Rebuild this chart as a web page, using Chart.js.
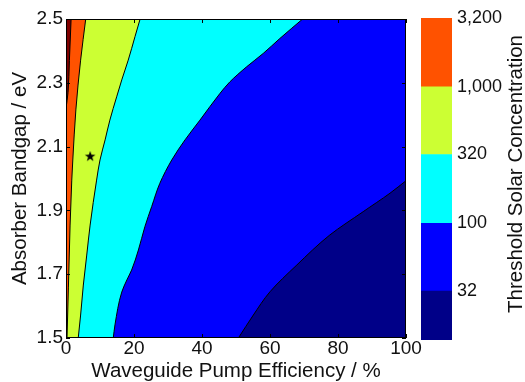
<!DOCTYPE html>
<html>
<head>
<meta charset="utf-8">
<script src="https://cdn.jsdelivr.net/npm/chart.js@4.4.1/dist/chart.umd.min.js"></script>
<style>
  html, body { margin: 0; padding: 0; background: #fff; }
  #wrap { position: relative; width: 525px; height: 382px; }
  #wrap canvas { position: absolute; left: 0; top: 0; }
</style>
</head>
<body>
<div id="wrap">
  <canvas id="map" width="525" height="382"></canvas>
  <canvas id="bar" width="525" height="382"></canvas>
</div>
<script>
// axis ticks
const effTicks = [0, 20, 40, 60, 80, 100];
const gapTicks = [1.5, 1.7, 1.9, 2.1, 2.3, 2.5];
const effRange = [0, 100];
const gapRange = [1.5, 2.5];

// colour bar levels
const levels = [14, 32, 100, 320, 1000, 3200];
const levelTicks = [32, 100, 320, 1000, 3200];
const bandColors = ['#000088', '#0000ff', '#00ffff', '#ccff33', '#ff5200'];
const topColor = '#800000';

// contour edges (gap in eV, efficiency in %)
const edge3200Gap = [2.22, 2.27, 2.37, 2.5];
const edge3200Eff = [0, 0.6, 1.0, 1.5];

const edge1000Gap = [1.5, 1.657, 1.854, 1.995, 2.058, 2.215, 2.371, 2.5];
const edge1000Eff = [0.3, 0.7, 1.2, 1.7, 2.0, 2.9, 4.3, 5.8];

const edge320Gap = [1.5, 1.572, 1.666, 1.76, 1.854, 1.995, 2.058, 2.121, 2.183, 2.256, 2.309, 2.371, 2.445, 2.5];
const edge320Eff = [3.6, 4.3, 5.1, 6.1, 7.1, 9.0, 10.0, 11.5, 12.9, 14.9, 16.4, 18.3, 20.3, 21.8];

const edge100Gap = [1.5, 1.541, 1.644, 1.682, 1.713, 1.776, 1.849, 1.912, 1.985, 2.058, 2.121, 2.183, 2.267, 2.303, 2.35, 2.392, 2.439, 2.5];
const edge100Eff = [13.9, 14.4, 16.4, 17.9, 19.3, 21.3, 23.2, 25.2, 27.6, 31.1, 35.0, 39.4, 45.3, 48.2, 53.1, 58.0, 62.9, 69.6];

const edge32Gap = [1.5, 1.572, 1.645, 1.729, 1.823, 1.896, 1.954, 1.993];
const edge32Eff = [50.7, 55.1, 60.0, 67.9, 77.6, 87.4, 95.3, 100];

const starEff = [7.1];
const starGap = [2.07];

Chart.defaults.font.family = '"Liberation Sans", Arial, sans-serif';
Chart.defaults.color = '#111';

const pts = (xs, ys) => xs.map((x, i) => ({x: x, y: ys[i]}));

function edge(xs, ys, color, side) {
  return {
    data: pts(xs, ys),
    borderColor: '#000',
    borderWidth: 1,
    pointRadius: 0,
    cubicInterpolationMode: 'monotone',
    backgroundColor: color,
    fill: {value: side}
  };
}

// filled black star for the marker
const star = document.createElement('canvas');
star.width = star.height = 12;
const sc = star.getContext('2d');
sc.beginPath();
for (let i = 0; i < 10; i++) {
  const r = i % 2 ? 2.2 : 5.6;
  const a = -Math.PI / 2 + i * Math.PI / 5;
  sc.lineTo(6 + r * Math.cos(a), 6.4 + r * Math.sin(a));
}
sc.closePath();
sc.fillStyle = '#000';
sc.fill();

const frame = {
  id: 'frame',
  afterDraw(chart) {
    const {ctx, chartArea: a, scales} = chart;
    ctx.save();
    ctx.strokeStyle = '#000';
    ctx.lineWidth = 1;
    ctx.beginPath();
    effTicks.forEach(v => {
      const x = Math.round(scales.x.getPixelForValue(v)) + 0.5;
      ctx.moveTo(x, a.bottom); ctx.lineTo(x, a.bottom - 4);
      ctx.moveTo(x, a.top); ctx.lineTo(x, a.top + 4);
    });
    gapTicks.forEach(v => {
      const y = Math.round(scales.y.getPixelForValue(v)) + 0.5;
      ctx.moveTo(a.left, y); ctx.lineTo(a.left + 4, y);
      ctx.moveTo(a.right, y); ctx.lineTo(a.right - 4, y);
    });
    ctx.stroke();
    ctx.strokeRect(a.left + 0.5, a.top + 0.5, a.right - a.left - 1, a.bottom - a.top - 1);
    ctx.restore();
  }
};

new Chart(document.getElementById('map'), {
  type: 'line',
  data: {
    datasets: [
      {
        data: pts(starEff, starGap),
        showLine: false,
        pointStyle: star,
        pointRadius: 6
      },
      edge(edge32Eff, edge32Gap, bandColors[0], effRange[1]),
      edge(edge100Eff, edge100Gap, bandColors[1], effRange[1]),
      edge(edge320Eff, edge320Gap, bandColors[2], effRange[1]),
      edge(edge1000Eff, edge1000Gap, bandColors[3], effRange[1]),
      edge(edge3200Eff, edge3200Gap, topColor, effRange[0]),
      {
        data: pts([effRange[0], effRange[0]], gapRange),
        borderWidth: 0,
        pointRadius: 0,
        backgroundColor: bandColors[4],
        fill: {value: effRange[1]}
      }
    ]
  },
  options: {
    indexAxis: 'y',
    responsive: false,
    animation: false,
    layout: {padding: {top: 19, right: 119, left: 0, bottom: 0}},
    plugins: {legend: {display: false}, tooltip: {enabled: false}},
    scales: {
      x: {
        type: 'linear',
        min: effRange[0],
        max: effRange[1],
        afterBuildTicks: s => { s.ticks = effTicks.map(v => ({value: v})); },
        afterFit: s => { s.height = 44; },
        ticks: {font: {size: 19, lineHeight: 1}, padding: 1, maxRotation: 0},
        grid: {display: false, drawTicks: false},
        border: {display: false},
        title: {
          display: true,
          text: 'Waveguide Pump Efficiency / %',
          font: {size: 20.5, lineHeight: 1},
          padding: {top: 0, bottom: 0}
        }
      },
      y: {
        type: 'linear',
        min: gapRange[0],
        max: gapRange[1],
        afterBuildTicks: s => { s.ticks = gapTicks.map(v => ({value: v})); },
        afterFit: s => { s.width = 66; },
        ticks: {font: {size: 19, lineHeight: 1}, padding: 3, callback: v => v.toFixed(1)},
        grid: {display: false, drawTicks: false},
        border: {display: false},
        title: {
          display: true,
          text: 'Absorber Bandgap / eV',
          font: {size: 20.5, lineHeight: 1},
          padding: {top: 10, bottom: 0}
        }
      }
    }
  },
  plugins: [frame]
});

const barTitle = {
  id: 'barTitle',
  afterDraw(chart) {
    const {ctx, chartArea: a} = chart;
    ctx.save();
    ctx.translate(516, (a.top + a.bottom) / 2 - 5);
    ctx.rotate(-Math.PI / 2);
    ctx.font = '20.5px "Liberation Sans", Arial, sans-serif';
    ctx.fillStyle = '#111';
    ctx.textAlign = 'center';
    ctx.textBaseline = 'middle';
    ctx.fillText('Threshold Solar Concentration', 0, 0);
    ctx.restore();
  }
};

new Chart(document.getElementById('bar'), {
  type: 'bar',
  data: {
    labels: ['c'],
    datasets: bandColors.map((c, i) => ({
      data: [[levels[i], levels[i + 1]]],
      backgroundColor: c,
      borderWidth: 0,
      grouped: false,
      barPercentage: 1,
      categoryPercentage: 1
    }))
  },
  options: {
    responsive: false,
    animation: false,
    layout: {padding: {left: 421, top: 18, bottom: 42, right: 0}},
    plugins: {legend: {display: false}, tooltip: {enabled: false}},
    scales: {
      x: {display: false},
      y: {
        type: 'logarithmic',
        position: 'right',
        min: levels[0],
        max: levels[levels.length - 1],
        afterBuildTicks: s => { s.ticks = levelTicks.map(v => ({value: v})); },
        afterFit: s => { s.width = 73; },
        ticks: {font: {size: 18, lineHeight: 1}, padding: 5, callback: v => v.toLocaleString('en-US')},
        grid: {display: false, drawTicks: false},
        border: {display: false}
      }
    }
  },
  plugins: [barTitle]
});
</script>
</body>
</html>
